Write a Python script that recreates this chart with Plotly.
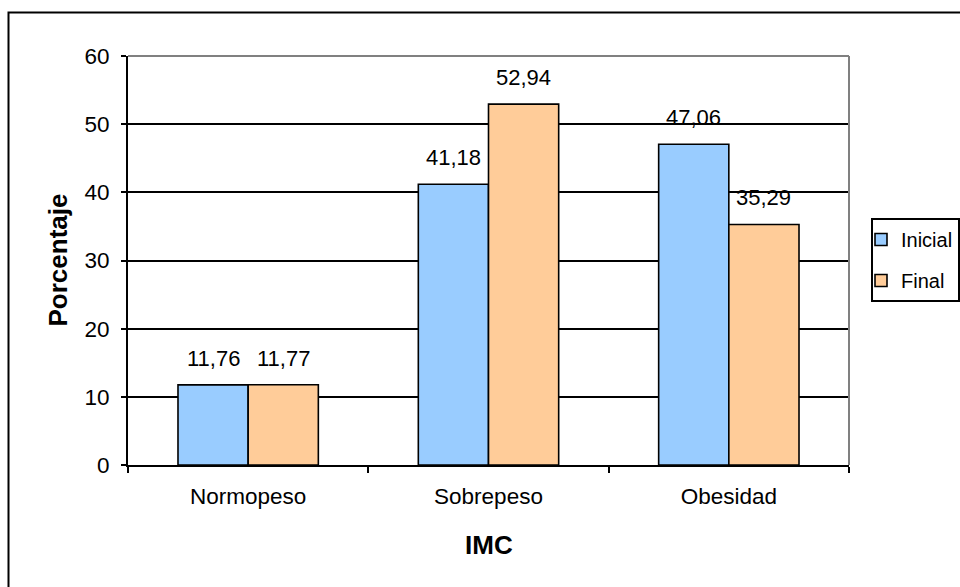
import plotly.graph_objects as go

categories = ["Normopeso", "Sobrepeso", "Obesidad"]
inicial = [11.76, 41.18, 47.06]
final = [11.77, 52.94, 35.29]
series_names = ["Inicial", "Final"]
y_ticks = [0, 10, 20, 30, 40, 50, 60]

W, H = 960, 587
ML, MR, MT, MB = 128, 111, 56, 122
PW, PH = W - ML - MR, H - MT - MB


def px_x(px):
    return (px - ML) / PW


def px_y(py):
    return (H - MB - py) / PH


def fmt(v):
    return f"{v:.2f}".replace(".", ",")


FONT = "Liberation Sans, Arial, sans-serif"
colors = ["#99CCFF", "#FFCC99"]

fig = go.Figure()
for i, (name, vals) in enumerate(zip(series_names, [inicial, final])):
    fig.add_trace(go.Bar(
        x=categories, y=vals, name=name, legendgroup=name,
        marker=dict(color=colors[i], line=dict(color="black", width=1.6)),
    ))

# value labels above each bar
bar_px = PW / len(categories) * (1 - 0.416) / 2
for i, vals in enumerate([inicial, final]):
    shift = (i - 0.5) * bar_px
    for c, v in zip(categories, vals):
        fig.add_annotation(
            x=c, y=v, xref="x", yref="y", text=fmt(v), showarrow=False,
            xshift=shift, yshift=12, yanchor="bottom",
            font=dict(family=FONT, size=22, color="black"),
        )

# axis titles
fig.add_annotation(x=0.5, y=px_y(545), xref="paper", yref="paper", text="<b>IMC</b>",
                   xanchor="center", yanchor="middle",
                   showarrow=False, font=dict(family=FONT, size=26, color="black"))
fig.add_annotation(x=px_x(57), y=0.5, xref="paper", yref="paper", text="<b>Porcentaje</b>",
                   xanchor="center", yanchor="middle",
                   textangle=-90, showarrow=False, font=dict(family=FONT, size=26, color="black"))

# plot area border (top and right) in gray
fig.add_shape(type="line", xref="paper", yref="paper", x0=0, x1=1, y0=1, y1=1,
              line=dict(color="#808080", width=2), layer="above")
fig.add_shape(type="line", xref="paper", yref="paper", x0=1, x1=1, y0=0, y1=1,
              line=dict(color="#808080", width=2), layer="above")

# chart area frame
fig.add_shape(type="rect", xref="paper", yref="paper",
              x0=px_x(8.5), x1=px_x(1100), y0=px_y(12.5), y1=px_y(800),
              line=dict(color="black", width=2), layer="below")

fig.update_layout(
    width=W, height=H,
    margin=dict(l=ML, r=MR, t=MT, b=MB, autoexpand=False),
    paper_bgcolor="white", plot_bgcolor="white",
    barmode="group", bargap=0.416, bargroupgap=0,
    font=dict(family=FONT, size=22, color="black"),
    showlegend=True,
    legend=dict(
        x=px_x(871), y=px_y(218), xanchor="left", yanchor="top",
        bordercolor="black", borderwidth=2, bgcolor="white",
        font=dict(family=FONT, size=20, color="black"),
        traceorder="grouped", tracegroupgap=12, indentation=-12,
        entrywidth=80, entrywidthmode="pixels",
    ),
    xaxis=dict(
        showline=True, linecolor="black", linewidth=2,
        ticks="outside", tickson="boundaries", ticklen=6, tickwidth=2, tickcolor="black",
        showgrid=False, tickfont=dict(family=FONT, size=22.5, color="black"),
        ticklabelstandoff=10, fixedrange=True,
    ),
    yaxis=dict(
        range=[0, 60], tickvals=y_ticks, showline=True, linecolor="black", linewidth=2,
        ticks="outside", ticklen=5, tickwidth=2, tickcolor="black",
        showgrid=True, gridcolor="black", gridwidth=1.5, zeroline=False,
        tickfont=dict(family=FONT, size=22.5, color="black"), ticklabelstandoff=7,
        fixedrange=True,
    ),
)

fig.write_html("out.html")
